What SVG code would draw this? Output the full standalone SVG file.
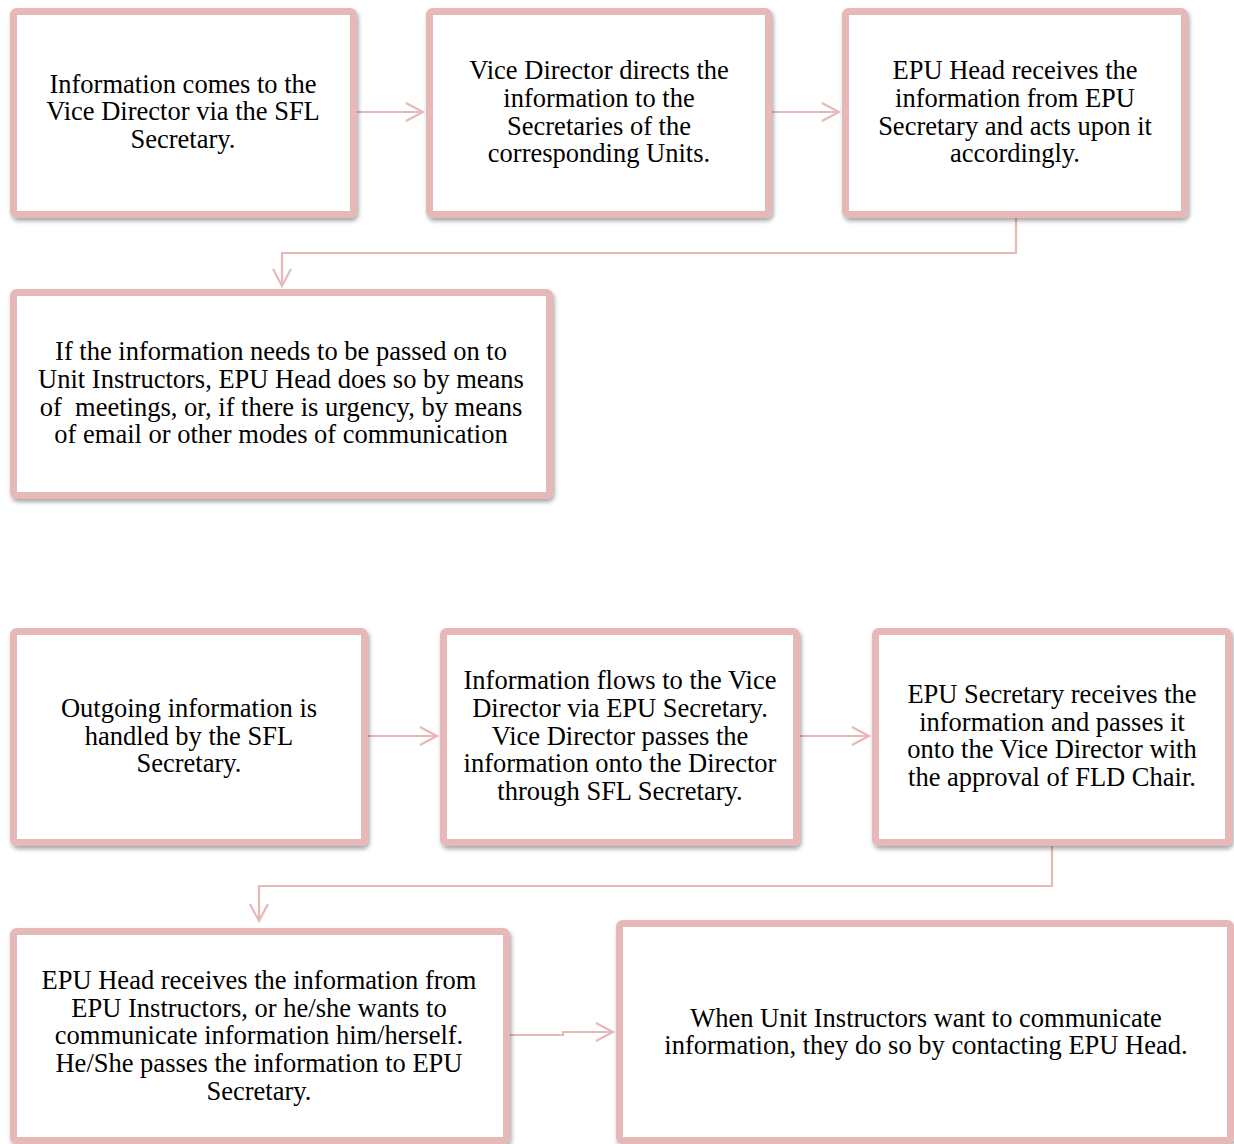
<svg xmlns="http://www.w3.org/2000/svg" width="1234" height="1144" viewBox="0 0 1234 1144">
  <style>
    .box { fill: #ffffff; stroke: #e6b9b8; stroke-width: 7; filter: url(#shadow); }
    .lbl { font-family: "Liberation Serif", "Times New Roman", serif; font-size: 26.5px; fill: #000000; text-anchor: middle; }
    .link { fill: none; stroke: #e6b9b8; stroke-width: 2.2; marker-end: url(#chevron); }
  </style>
  <defs>
    <filter id="shadow" x="-5%" y="-5%" width="112%" height="115%">
      <feDropShadow dx="1.5" dy="3" stdDeviation="2" flood-color="#000000" flood-opacity="0.35"/>
    </filter>
    <marker id="chevron" markerUnits="userSpaceOnUse" markerWidth="24" markerHeight="24" viewBox="-20 -12 24 24" refX="0" refY="0" orient="auto">
      <path d="M-17,-9 L0,0 L-17,9" fill="none" stroke="#e6b9b8" stroke-width="2.2"/>
    </marker>
  </defs>

  <rect width="1234" height="1144" fill="#ffffff"/>

  <!-- connectors -->
  <g id="connectors">
    <path class="link" d="M357,112 H423"/>
    <path class="link" d="M772,112 H839"/>
    <path class="link" d="M1016,218 V253 H282 V286"/>
    <path class="link" d="M368,736 H437"/>
    <path class="link" d="M800,736 H869"/>
    <path class="link" d="M1052,846 V886 H259 V921"/>
    <path class="link" d="M510,1035 H563 V1032 H613"/>
  </g>

  <!-- incoming information flow -->
  <g id="node-sfl-in">
    <rect class="box" x="13.5" y="11.5" width="340" height="203" rx="3"/>
    <text class="lbl" x="183" y="93">Information comes to the</text>
    <text class="lbl" x="183" y="120">Vice Director via the SFL</text>
    <text class="lbl" x="183" y="148">Secretary.</text>
  </g>
  <g id="node-vice-directs">
    <rect class="box" x="429.5" y="11.5" width="339" height="203" rx="3"/>
    <text class="lbl" x="599" y="79">Vice Director directs the</text>
    <text class="lbl" x="599" y="107">information to the</text>
    <text class="lbl" x="599" y="135">Secretaries of the</text>
    <text class="lbl" x="599" y="162">corresponding Units.</text>
  </g>
  <g id="node-epu-head-receives">
    <rect class="box" x="845.5" y="11.5" width="339" height="203" rx="3"/>
    <text class="lbl" x="1015" y="79">EPU Head receives the</text>
    <text class="lbl" x="1015" y="107">information from EPU</text>
    <text class="lbl" x="1015" y="135">Secretary and acts upon it</text>
    <text class="lbl" x="1015" y="162">accordingly.</text>
  </g>
  <g id="node-pass-to-instructors">
    <rect class="box" x="13.5" y="292.5" width="536" height="203" rx="3"/>
    <text class="lbl" x="281" y="360">If the information needs to be passed on to</text>
    <text class="lbl" x="281" y="388">Unit Instructors, EPU Head does so by means</text>
    <text class="lbl" x="281" y="416" xml:space="preserve">of  meetings, or, if there is urgency, by means</text>
    <text class="lbl" x="281" y="443">of email or other modes of communication</text>
  </g>

  <!-- outgoing information flow -->
  <g id="node-sfl-out">
    <rect class="box" x="13.5" y="631.5" width="351" height="211" rx="3"/>
    <text class="lbl" x="189" y="717">Outgoing information is</text>
    <text class="lbl" x="189" y="745">handled by the SFL</text>
    <text class="lbl" x="189" y="772">Secretary.</text>
  </g>
  <g id="node-flows-to-vice">
    <rect class="box" x="443.5" y="631.5" width="353" height="211" rx="3"/>
    <text class="lbl" x="620" y="689">Information flows to the Vice</text>
    <text class="lbl" x="620" y="717">Director via EPU Secretary.</text>
    <text class="lbl" x="620" y="745">Vice Director passes the</text>
    <text class="lbl" x="620" y="772">information onto the Director</text>
    <text class="lbl" x="620" y="800">through SFL Secretary.</text>
  </g>
  <g id="node-epu-secretary">
    <rect class="box" x="875.5" y="631.5" width="353" height="211" rx="3"/>
    <text class="lbl" x="1052" y="703">EPU Secretary receives the</text>
    <text class="lbl" x="1052" y="731">information and passes it</text>
    <text class="lbl" x="1052" y="758">onto the Vice Director with</text>
    <text class="lbl" x="1052" y="786">the approval of FLD Chair.</text>
  </g>
  <g id="node-epu-head-passes">
    <rect class="box" x="13.5" y="931.5" width="493" height="209" rx="3"/>
    <text class="lbl" x="259" y="989">EPU Head receives the information from</text>
    <text class="lbl" x="259" y="1017">EPU Instructors, or he/she wants to</text>
    <text class="lbl" x="259" y="1044">communicate information him/herself.</text>
    <text class="lbl" x="259" y="1072">He/She passes the information to EPU</text>
    <text class="lbl" x="259" y="1100">Secretary.</text>
  </g>
  <g id="node-unit-instructors">
    <rect class="box" x="619.5" y="923.5" width="611" height="217" rx="3"/>
    <text class="lbl" x="926" y="1027">When Unit Instructors want to communicate</text>
    <text class="lbl" x="926" y="1054">information, they do so by contacting EPU Head.</text>
  </g>
</svg>
